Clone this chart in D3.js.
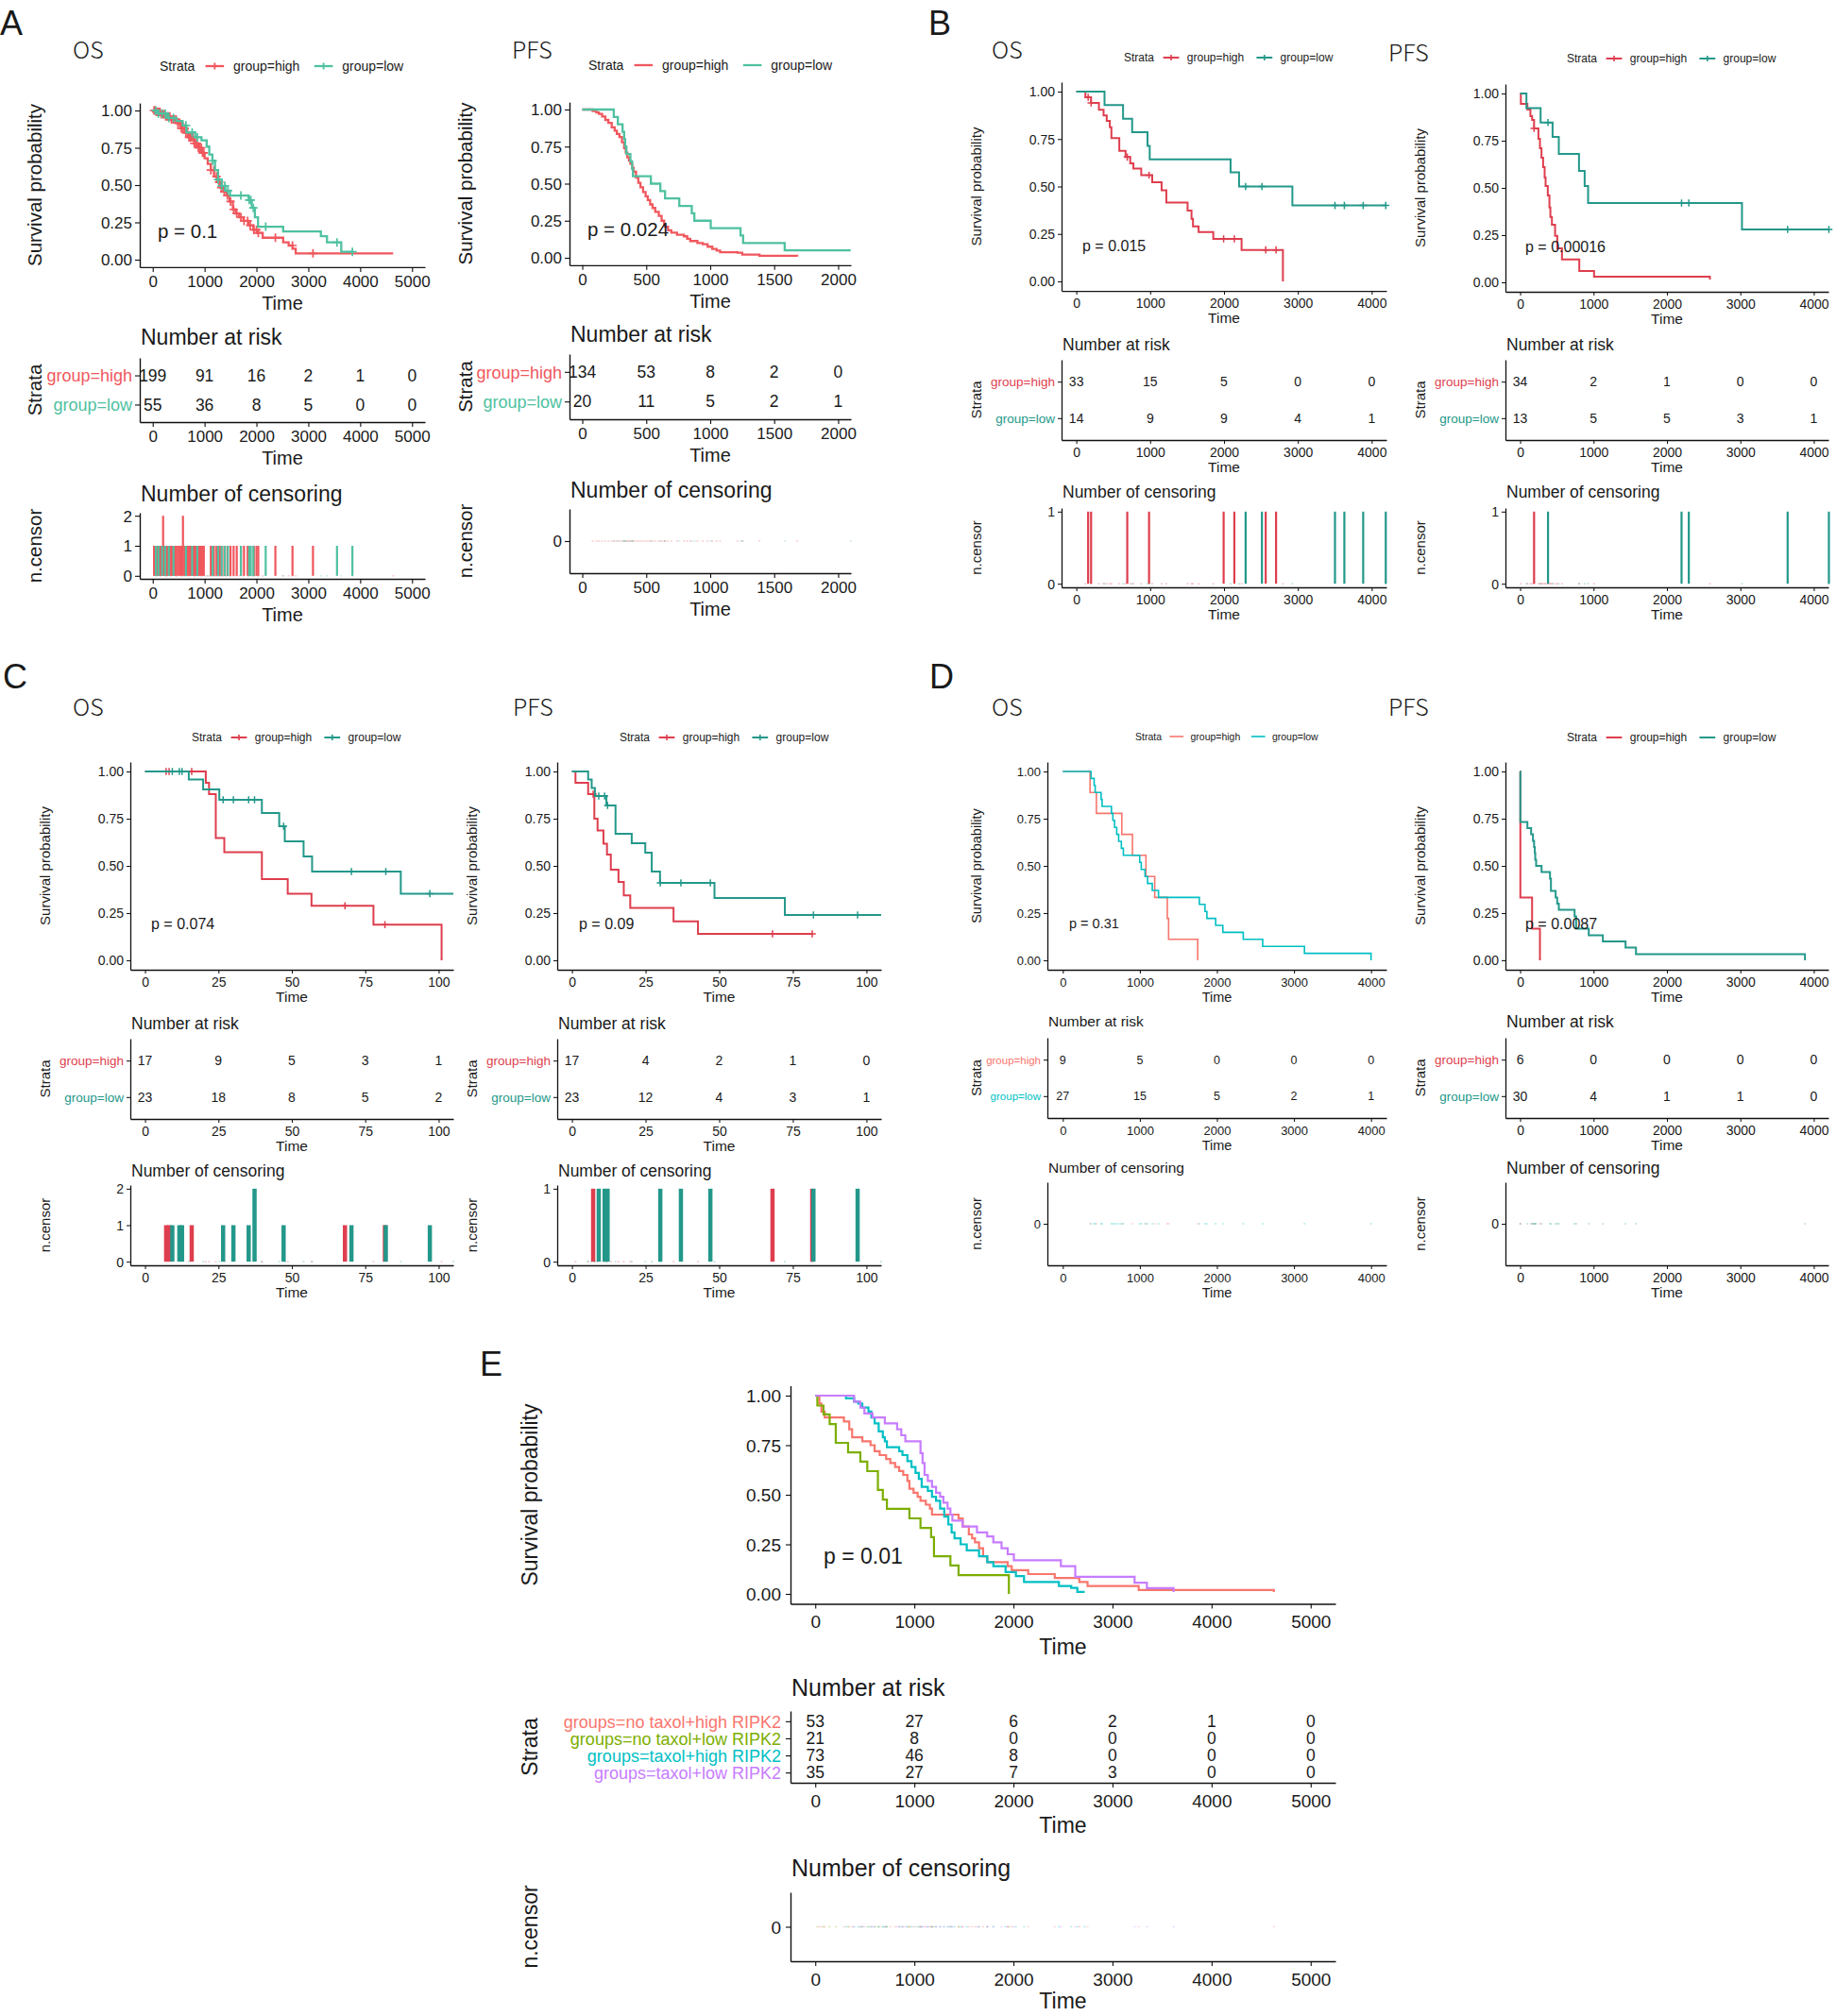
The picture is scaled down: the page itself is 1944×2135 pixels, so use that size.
<!DOCTYPE html>
<html><head><meta charset="utf-8">
<script src="https://cdn.jsdelivr.net/npm/d3@7"></script>
<style>
body{margin:0;background:#fff}
svg text{font-family:'Liberation Sans',Arial,sans-serif;fill:#1a1a1a}
.ttl{font-family:'Noto Sans CJK SC','Noto Sans',sans-serif !important;font-weight:300}
.ltr{font-family:'Liberation Sans',Arial,sans-serif !important;font-weight:normal}
</style>
</head><body>
<svg id="c" width="1944" height="2135"></svg>
<script>
// ---------------- DATA ----------------
const strata2 = ["group=high","group=low"];
const strataE = ["groups=no taxol+high RIPK2","groups=no taxol+low RIPK2","groups=taxol+high RIPK2","groups=taxol+low RIPK2"];
const survTicks = [0,0.25,0.5,0.75,1];
const timeA_OS = [0,1000,2000,3000,4000,5000];
const timeA_PFS = [0,500,1000,1500,2000];
const timeB = [0,1000,2000,3000,4000];
const timeC = [0,25,50,75,100];
const timeD = [0,1000,2000,3000,4000];
const timeE = [0,1000,2000,3000,4000,5000];

// Panel A  OS
const A_OS_high = [[0,1],[60,0.99],[150,0.975],[250,0.96],[350,0.94],[455,0.916],[550,0.88],[620,0.85],[697,0.82],[800,0.78],[880,0.75],[940,0.716],[1000,0.68],[1060,0.642],[1120,0.6],[1182,0.558],[1240,0.52],[1303,0.484],[1360,0.455],[1424,0.43],[1480,0.39],[1545,0.337],[1600,0.31],[1667,0.284],[1750,0.26],[1848,0.23],[1940,0.2],[2030,0.179],[2121,0.147],[2515,0.116],[2620,0.095],[2697,0.074],[2757,0.042],[4636,0.042]];
const A_OS_low = [[0,1],[91,0.98],[273,0.95],[455,0.93],[576,0.9],[650,0.853],[818,0.82],[940,0.8],[1040,0.758],[1090,0.705],[1150,0.663],[1200,0.6],[1260,0.537],[1330,0.495],[1400,0.463],[1490,0.43],[1848,0.4],[1910,0.347],[1970,0.284],[2030,0.221],[2515,0.189],[3242,0.158],[3360,0.116],[3635,0.053],[3848,0.053]];
const A_OS_high_cens = [25,45,70,95,120,140,165,200,200,225,250,275,300,330,360,390,420,450,485,520,550,583,583,615,640,670,700,725,750,775,800,825,850,880,905,935,960,985,1120,1180,1230,1280,1320,1380,1440,1500,1560,1620,1700,1760,1830,1880,1950,2000,2035,2365,2695,3090];
const A_OS_low_cens = [60,110,180,240,310,400,640,760,860,1155,1260,1330,1390,1450,1700,1860,1890,1940,2178,3553,3850];
const A_OS_risk_high = [199,91,16,2,1,0];
const A_OS_risk_low = [55,36,8,5,0,0];

// Panel A  PFS
const A_PFS_high = [[0,1],[81,0.99],[110,0.98],[130,0.97],[155,0.953],[180,0.93],[204,0.91],[230,0.88],[253,0.857],[270,0.835],[290,0.815],[310,0.78],[327,0.74],[340,0.71],[352,0.677],[365,0.655],[376,0.634],[390,0.607],[401,0.58],[420,0.54],[438,0.506],[455,0.475],[475,0.443],[495,0.415],[512,0.389],[530,0.36],[549,0.336],[570,0.31],[598,0.283],[620,0.25],[640,0.22],[647,0.209],[670,0.185],[696,0.17],[740,0.155],[795,0.145],[820,0.128],[844,0.113],[900,0.1],[942,0.091],[980,0.075],[1016,0.06],[1050,0.048],[1077,0.038],[1213,0.034],[1250,0.021],[1385,0.013],[1680,0.008]];
const A_PFS_low = [[0,1],[246,0.95],[278,0.9],[315,0.85],[327,0.8],[335,0.75],[345,0.7],[376,0.65],[390,0.6],[396,0.55],[536,0.5],[610,0.45],[647,0.4],[758,0.35],[856,0.3],[876,0.25],[1004,0.2],[1237,0.15],[1257,0.1],[1582,0.05],[2098,0.05]];
const A_PFS_risk_high = [134,53,8,2,0];
const A_PFS_risk_low = [20,11,5,2,1];

// Panel B  OS
const B_OS_high = [[0,1],[123,0.97],[200,0.94],[306,0.904],[369,0.874],[412,0.846],[454,0.812],[475,0.755],[582,0.688],[667,0.655],[730,0.622],[773,0.594],[879,0.56],[1028,0.522],[1155,0.48],[1219,0.415],[1507,0.373],[1560,0.33],[1580,0.29],[1656,0.26],[1855,0.224],[2238,0.166],[2798,0]];
const B_OS_low = [[0,1],[382,0.929],[633,0.857],[756,0.786],[964,0.714],[994,0.643],[2089,0.575],[2204,0.5],[2926,0.4],[4191,0.4]];
const B_OS_high_cens = [160,200,690,985,1995,2140,2565,2705];
const B_OS_low_cens = [2293,2514,3503,3630,3885,4191];
const B_OS_risk_high = [33,15,5,0,0];
const B_OS_risk_low = [14,9,9,4,1];

// Panel B  PFS
const B_PFS_high = [[0,1],[10,0.945],[99,0.915],[140,0.88],[163,0.86],[190,0.815],[249,0.76],[270,0.71],[291,0.66],[313,0.61],[334,0.555],[347,0.51],[377,0.46],[399,0.396],[412,0.346],[433,0.305],[476,0.246],[506,0.18],[570,0.121],[806,0.06],[1007,0.03],[2585,0.015]];
const B_PFS_low = [[0,1],[86,0.923],[279,0.846],[442,0.77],[527,0.68],[802,0.59],[879,0.51],[926,0.42],[3022,0.28],[4206,0.28]];
const B_PFS_high_cens = [190];
const B_PFS_low_cens = [380,2199,2298,3644,4206];
const B_PFS_risk_high = [34,2,1,0,0];
const B_PFS_risk_low = [13,5,5,3,1];

// Panel C  OS
const C_OS_high = [[0,1],[20.7,0.94],[21.8,0.88],[24.1,0.648],[27,0.573],[39.8,0.43],[48.6,0.352],[56.7,0.289],[77.8,0.189],[101,0]];
const C_OS_low = [[0,1],[14.9,0.957],[19.8,0.905],[25.3,0.85],[39.8,0.78],[45.7,0.71],[47.6,0.63],[54,0.55],[56.9,0.47],[87.1,0.353],[105,0.353]];
const C_OS_high_cens = [7.2,8.2,15.9,68.1,81.7];
const C_OS_low_cens = [9.3,11.7,12.6,26.6,30.1,35.3,37.3,37.3,47.2,70.3,82,97];
const C_OS_risk_high = [17,9,5,3,1];
const C_OS_risk_low = [23,18,8,5,2];

// Panel C  PFS
const C_PFS_high = [[0,1],[1.2,0.94],[5.5,0.88],[7.6,0.75],[8.7,0.688],[10.7,0.618],[11.9,0.56],[13.2,0.48],[15.8,0.415],[17.6,0.344],[19.8,0.277],[34.5,0.206],[42.8,0.14],[81.6,0.14]];
const C_PFS_low = [[0,1],[5.5,0.957],[6.7,0.913],[7.8,0.87],[11.7,0.82],[14.8,0.67],[20.3,0.62],[24.9,0.57],[27.1,0.47],[29.9,0.41],[48.4,0.33],[72.3,0.24],[105,0.24]];
const C_PFS_high_cens = [7.2,68.1,81.6];
const C_PFS_low_cens = [9.1,11.1,12.1,30,37,47,82,97];
const C_PFS_risk_high = [17,4,2,1,0];
const C_PFS_risk_low = [23,12,4,3,1];

// Panel D  OS
const D_OS_high = [[0,1],[354,0.889],[436,0.778],[766,0.667],[904,0.556],[1079,0.444],[1193,0.333],[1356,0.222],[1373,0.111],[1751,0]];
const D_OS_low = [[0,1],[367,0.963],[407,0.926],[420,0.889],[497,0.852],[510,0.815],[631,0.778],[650,0.741],[672,0.704],[700,0.667],[725,0.63],[760,0.593],[786,0.556],[998,0.519],[1018,0.481],[1067,0.444],[1100,0.407],[1161,0.37],[1242,0.333],[1772,0.296],[1845,0.259],[1870,0.222],[1984,0.185],[2077,0.148],[2342,0.111],[2594,0.074],[3136,0.037],[4000,0]];
const D_OS_risk_high = [9,5,0,0,0];
const D_OS_risk_low = [27,15,5,2,1];

// Panel D  PFS
const D_PFS_high = [[0,1],[3,0.333],[163,0.167],[270,0]];
const D_PFS_low = [[0,1],[3,0.733],[99,0.7],[150,0.667],[175,0.633],[190,0.6],[200,0.567],[206,0.533],[218,0.5],[292,0.467],[407,0.433],[420,0.367],[484,0.333],[505,0.3],[527,0.267],[742,0.233],[763,0.167],[935,0.133],[1127,0.1],[1436,0.067],[1578,0.033],[3880,0]];
const D_PFS_risk_high = [6,0,0,0,0];
const D_PFS_risk_low = [30,4,1,1,0];

// Panel E
const E_noTaxolHigh = [[0,1],[41,0.96],[62,0.92],[95,0.89],[289,0.87],[343,0.83],[372,0.79],[475,0.77],[558,0.75],[599,0.72],[650,0.7],[715,0.68],[757,0.66],[806,0.64],[847,0.62],[888,0.6],[930,0.57],[950,0.53],[992,0.51],[1033,0.49],[1062,0.47],[1116,0.45],[1157,0.43],[1178,0.4],[1446,0.38],[1488,0.34],[1550,0.3],[1583,0.28],[1612,0.26],[1653,0.23],[1694,0.19],[1735,0.16],[1942,0.14],[1983,0.12],[2149,0.1],[2417,0.08],[2665,0.06],[2748,0.04],[3264,0.02],[4628,0.01]];
const E_noTaxolLow = [[0,1],[21,0.95],[83,0.905],[145,0.857],[207,0.762],[331,0.714],[455,0.667],[525,0.619],[632,0.524],[682,0.476],[723,0.429],[950,0.381],[1062,0.333],[1169,0.286],[1198,0.19],[1364,0.143],[1446,0.095],[1954,0]];
const E_taxolHigh = [[0,1],[310,0.986],[392,0.97],[434,0.96],[475,0.94],[537,0.92],[566,0.89],[599,0.86],[640,0.82],[682,0.79],[702,0.77],[723,0.74],[847,0.72],[880,0.7],[930,0.67],[971,0.64],[1012,0.61],[1045,0.58],[1074,0.54],[1136,0.52],[1178,0.49],[1219,0.47],[1260,0.43],[1302,0.39],[1343,0.35],[1376,0.31],[1405,0.28],[1467,0.25],[1529,0.22],[1653,0.19],[1736,0.16],[1797,0.14],[1921,0.11],[2025,0.09],[2107,0.06],[2459,0.04],[2583,0.03],[2645,0.01],[2719,0.01]];
const E_taxolLow = [[0,1],[392,0.97],[455,0.94],[496,0.91],[578,0.89],[702,0.86],[826,0.83],[868,0.8],[909,0.77],[1062,0.71],[1083,0.66],[1103,0.6],[1136,0.57],[1178,0.54],[1219,0.51],[1260,0.49],[1293,0.46],[1335,0.43],[1364,0.4],[1384,0.37],[1488,0.34],[1632,0.31],[1735,0.29],[1797,0.26],[1880,0.23],[1942,0.2],[2004,0.17],[2479,0.14],[2624,0.086],[3223,0.057],[3347,0.029],[3616,0.01]];
const E_risk = [[53,27,6,2,1,0],[21,8,0,0,0,0],[73,46,8,0,0,0],[35,27,7,3,0,0]];

const pvals = {A_OS:"p = 0.1",A_PFS:"p = 0.024",B_OS:"p = 0.015",B_PFS:"p = 0.00016",C_OS:"p = 0.074",C_PFS:"p = 0.09",D_OS:"p = 0.31",D_PFS:"p = 0.0087",E:"p = 0.01"};

// ---------------- STYLE ----------------
const colA = ['#F0575D','#4FC1A1'];
const colBC = ['#DE3E4E','#23988A'];
const colDOS = ['#F8766D','#00BFC4'];
const colE = ['#F8766D','#7CAE00','#00BFC4','#C77CFF'];

const SA = {title:25,leg:14,tick:17,tl:5,ypad:3,toff:15,time:20,toffT:38,ytitle:20.5,p:20.5,sub:23,strata:18,num:17.5,lw:2.3,axw:1.4,plus:4.5,censW:2.2};
const SB = {title:25,leg:12,tick:14,tl:4,ypad:3,toff:13,time:15.5,toffT:29,ytitle:15,p:16,sub:17.5,strata:13.5,num:14,lw:2,axw:1.3,plus:3.8,censW:2.2};
const SC = Object.assign({},SB,{censW:4.5});
const SDOS = Object.assign({},SB,{leg:10.5,tick:13,sub:15.5,strata:11.5,num:12.5,p:14.5,lw:1.6,time:14.5,ytitle:14.5});
const SE = {tick:19,tl:5,ypad:5,toff:19,time:23,toffT:45,ytitle:23,p:23,sub:25,strata:18,num:17.5,lw:2.2,axw:1.4,plus:4,censW:2};

const svg = d3.select('#c');
svg.append('rect').attr('width',1944).attr('height',2135).attr('fill','#fff');

function stepVal(data,t){let s=data[0][1];for(const [tt,ss] of data){if(tt<=t)s=ss;else break;}return s;}
function plus(g,cx,cy,s,col,w){g.append('path').attr('d',`M${cx-s},${cy}H${cx+s}M${cx},${cy-s}V${cy+s}`).attr('stroke',col).attr('stroke-width',w).attr('fill','none');}
function rotLabel(g,x,y,txt,fs){g.append('text').attr('transform',`translate(${x},${y}) rotate(-90)`).attr('text-anchor','middle').attr('dy','0.35em').style('font-size',fs+'px').text(txt);}
function hLabel(g,x,y,txt,fs){g.append('text').attr('x',x).attr('y',y).attr('text-anchor','middle').attr('dy','0.35em').style('font-size',fs+'px').text(txt);}
function fmtX(ax,S){ax.select('.domain').attr('stroke','#111').attr('stroke-width',S.axw);ax.selectAll('.tick line').attr('stroke','#111').attr('stroke-width',S.axw*0.8);
  ax.selectAll('.tick text').attr('y',S.toff).attr('dy','0.35em').style('font-size',S.tick+'px');}
function fmtY(ax,S,fs){ax.select('.domain').attr('stroke','#111').attr('stroke-width',S.axw);ax.selectAll('.tick line').attr('stroke','#111').attr('stroke-width',S.axw*0.8);
  ax.selectAll('.tick text').attr('x',-(S.tl+S.ypad)).attr('dy','0.35em').style('font-size',(fs||S.tick)+'px');}

function drawKM(cfg){
  const L=cfg.L,S=cfg.S,g=svg.append('g');
  const X=d3.max(cfg.ticks);
  const x=d3.scaleLinear().domain([-0.05*X,1.05*X]).range([L.xL,L.xR]);
  const h=L.y0-L.y1;
  const y=d3.scaleLinear().domain([-0.05,1.05]).range([L.y0+0.05*h,L.y1-0.05*h]);
  if(cfg.title) g.append('text').attr('class','ttl').attr('x',L.tx).attr('y',L.ty).style('font-size',S.title+'px').text(cfg.title);
  if(cfg.legend){
    let cx=L.lx;const ly=L.ly;
    const t0=g.append('text').attr('x',cx).attr('y',ly).attr('dy','0.35em').style('font-size',S.leg+'px').text('Strata');
    cx+=t0.node().getComputedTextLength()+S.leg*0.8;
    cfg.groups.forEach(gr=>{
      g.append('line').attr('x1',cx).attr('x2',cx+S.leg*1.4).attr('y1',ly).attr('y2',ly).attr('stroke',gr.color).attr('stroke-width',S.lw);
      if(cfg.legendPlus) plus(g,cx+S.leg*0.7,ly,S.plus*0.8,gr.color,S.lw*0.8);
      cx+=S.leg*1.4+S.leg*0.7;
      const tt=g.append('text').attr('x',cx).attr('y',ly).attr('dy','0.35em').style('font-size',S.leg+'px').text(gr.label);
      cx+=tt.node().getComputedTextLength()+S.leg*1.1;
    });
  }
  // survival axes
  const ax=g.append('g').attr('transform',`translate(0,${y(-0.05)})`).call(d3.axisBottom(x).tickValues(cfg.ticks).tickSize(S.tl).tickSizeOuter(0).tickFormat(d3.format('d')));
  fmtX(ax,S);
  const ay=g.append('g').attr('transform',`translate(${L.xL},0)`).call(d3.axisLeft(y).tickValues(survTicks).tickSize(S.tl).tickSizeOuter(0).tickFormat(d3.format('.2f')));
  fmtY(ay,S);
  const line=d3.line().x(d=>x(d[0])).y(d=>y(d[1])).curve(d3.curveStepAfter);
  cfg.groups.forEach(gr=>{
    g.append('path').datum(gr.data).attr('d',line).attr('fill','none').attr('stroke',gr.color).attr('stroke-width',S.lw);
    if(gr.cens) Array.from(new Set(gr.cens)).forEach(t=>plus(g,x(t),y(stepVal(gr.data,t)),S.plus,gr.color,S.lw*0.75));
  });
  g.append('text').attr('x',L.px).attr('y',L.py).attr('dy','0.35em').style('font-size',S.p+'px').text(cfg.p);
  rotLabel(g,L.yt,(L.y0+L.y1)/2,'Survival probability',S.ytitle);
  hLabel(g,(L.xL+L.xR)/2,y(-0.05)+S.toffT,'Time',S.time);

  // risk table
  g.append('text').attr('x',L.xL+1).attr('y',L.rt).attr('dy','0.35em').style('font-size',S.sub+'px').text('Number at risk');
  const labels=cfg.groups.map(d=>d.label);
  const yr=d3.scalePoint().domain(labels).range([L.r0,L.r1]).padding(0.6);
  const rx=g.append('g').attr('transform',`translate(0,${L.r1})`).call(d3.axisBottom(x).tickValues(cfg.ticks).tickSize(S.tl).tickSizeOuter(0).tickFormat(d3.format('d')));
  fmtX(rx,S);
  const ry=g.append('g').attr('transform',`translate(${L.xL},0)`).call(d3.axisLeft(yr).tickSize(S.tl).tickSizeOuter(0));
  fmtY(ry,S,S.strata);
  ry.selectAll('.tick text').style('fill',(d,i)=>cfg.groups[i].color);
  cfg.groups.forEach(gr=>gr.risk.forEach((n,j)=>{
    g.append('text').attr('x',x(cfg.ticks[j])).attr('y',yr(gr.label)).attr('dy','0.35em').attr('text-anchor','middle').style('font-size',S.num+'px').text(n);
  }));
  rotLabel(g,L.yt,(L.r0+L.r1)/2,'Strata',S.ytitle);
  hLabel(g,(L.xL+L.xR)/2,L.r1+S.toffT,'Time',S.time);

  // censoring plot
  g.append('text').attr('x',L.xL+1).attr('y',L.ct).attr('dy','0.35em').style('font-size',S.sub+'px').text('Number of censoring');
  const counts=cfg.groups.map(gr=>Array.from(d3.rollup(gr.cens||[],v=>v.length,d=>d),([t,n])=>({t,n})));
  const M=d3.max(counts.flat(),d=>d.n)||0;
  const yc=d3.scaleLinear().domain(M>0?[-0.05*M,1.05*M]:[-1,1]).range([L.c1,L.c0]);
  cfg.groups.forEach(gr=>{
    gr.data.slice(1).forEach(d=>{
      g.append('rect').attr('x',x(d[0])-1).attr('y',yc(0)-0.75).attr('width',2).attr('height',1.5).attr('fill',gr.color).attr('opacity',0.3);
    });
  });
  cfg.groups.forEach((gr,i)=>{
    counts[i].forEach(d=>{
      g.append('rect').attr('x',x(d.t)-S.censW/2).attr('y',yc(d.n)).attr('width',S.censW).attr('height',yc(0)-yc(d.n)).attr('fill',gr.color);
    });
  });
  const cx=g.append('g').attr('transform',`translate(0,${L.c1})`).call(d3.axisBottom(x).tickValues(cfg.ticks).tickSize(S.tl).tickSizeOuter(0).tickFormat(d3.format('d')));
  fmtX(cx,S);
  const cy=g.append('g').attr('transform',`translate(${L.xL},0)`).call(d3.axisLeft(yc).tickValues(d3.range(0,M+1)).tickSize(S.tl).tickSizeOuter(0).tickFormat(d3.format('d')));
  fmtY(cy,S);
  rotLabel(g,L.yt,(L.c0+L.c1)/2,'n.censor',S.ytitle);
  hLabel(g,(L.xL+L.xR)/2,L.c1+(L.cT||S.toffT),'Time',S.time);
}

function mk2(d1,d2,c1,c2,r1,r2,cols){
  return [{label:strata2[0],color:cols[0],data:d1,cens:c1,risk:r1},{label:strata2[1],color:cols[1],data:d2,cens:c2,risk:r2}];
}

// ---------------- PANELS ----------------
drawKM({title:'OS',legend:true,legendPlus:true,ticks:timeA_OS,p:pvals.A_OS,S:SA,
  groups:mk2(A_OS_high,A_OS_low,A_OS_high_cens,A_OS_low_cens,A_OS_risk_high,A_OS_risk_low,colA),
  L:{tx:77,ty:62,lx:169,ly:70,xL:148,xR:450,y1:117,y0:275,yt:37,px:167,py:245,rt:357,r0:379,r1:447,ct:523,c0:543,c1:613}});
drawKM({title:'PFS',legend:true,legendPlus:false,ticks:timeA_PFS,p:pvals.A_PFS,S:SA,
  groups:mk2(A_PFS_high,A_PFS_low,null,null,A_PFS_risk_high,A_PFS_risk_low,colA),
  L:{tx:542,ty:62,lx:623,ly:69,xL:603,xR:901,y1:116,y0:273,yt:493,px:622,py:243,rt:354,r0:375,r1:444,ct:519,c0:539,c1:607}});
drawKM({title:'OS',legend:true,legendPlus:true,ticks:timeB,p:pvals.B_OS,S:SB,
  groups:mk2(B_OS_high,B_OS_low,B_OS_high_cens,B_OS_low_cens,B_OS_risk_high,B_OS_risk_low,colBC),
  L:{tx:1050,ty:62,lx:1190,ly:61,xL:1124,xR:1468,y1:97,y0:298,yt:1034,px:1146,py:260,rt:365,r0:381,r1:466,ct:521,c0:538,c1:622}});
drawKM({title:'PFS',legend:true,legendPlus:true,ticks:timeB,p:pvals.B_PFS,S:SB,
  groups:mk2(B_PFS_high,B_PFS_low,B_PFS_high_cens,B_PFS_low_cens,B_PFS_risk_high,B_PFS_risk_low,colBC),
  L:{tx:1470,ty:65,lx:1659,ly:62,xL:1594,xR:1936,y1:99,y0:299,yt:1504,px:1615,py:261,rt:365,r0:381,r1:466,ct:521,c0:538,c1:622}});
drawKM({title:'OS',legend:true,legendPlus:true,ticks:timeC,p:pvals.C_OS,S:SC,
  groups:mk2(C_OS_high,C_OS_low,C_OS_high_cens,C_OS_low_cens,C_OS_risk_high,C_OS_risk_low,colBC),
  L:{tx:77,ty:758,lx:203,ly:781,xL:138,xR:480,y1:817,y0:1017,yt:48,px:160,py:978,rt:1084,r0:1100,r1:1185,ct:1240,c0:1255,c1:1340}});
drawKM({title:'PFS',legend:true,legendPlus:true,ticks:timeC,p:pvals.C_PFS,S:SC,
  groups:mk2(C_PFS_high,C_PFS_low,C_PFS_high_cens,C_PFS_low_cens,C_PFS_risk_high,C_PFS_risk_low,colBC),
  L:{tx:543,ty:758,lx:656,ly:781,xL:590,xR:933,y1:817,y0:1017,yt:500,px:613,py:978,rt:1084,r0:1100,r1:1185,ct:1240,c0:1255,c1:1340}});
drawKM({title:'OS',legend:true,legendPlus:false,ticks:timeD,p:pvals.D_OS,S:SDOS,
  groups:mk2(D_OS_high,D_OS_low,null,null,D_OS_risk_high,D_OS_risk_low,colDOS),
  L:{tx:1050,ty:758,lx:1202,ly:780,xL:1109,xR:1468,y1:817,y0:1017,yt:1034,px:1132,py:978,rt:1082,r0:1099,r1:1184,ct:1237,c0:1252,c1:1340}});
drawKM({title:'PFS',legend:true,legendPlus:false,ticks:timeD,p:pvals.D_PFS,S:SB,
  groups:mk2(D_PFS_high,D_PFS_low,null,null,D_PFS_risk_high,D_PFS_risk_low,colBC),
  L:{tx:1470,ty:758,lx:1659,ly:781,xL:1594,xR:1936,y1:817,y0:1017,yt:1504,px:1615,py:978,rt:1082,r0:1099,r1:1184,ct:1237,c0:1252,c1:1340}});
const Edata=[E_noTaxolHigh,E_noTaxolLow,E_taxolHigh,E_taxolLow];
drawKM({title:null,legend:false,ticks:timeE,p:pvals.E,S:SE,
  groups:strataE.map((s,i)=>({label:s,color:colE[i],data:Edata[i],cens:null,risk:E_risk[i]})),
  L:{xL:837,xR:1414,y1:1478,y0:1688,yt:561,px:872,py:1648,rt:1787,r0:1812,r1:1888,ct:1978,c0:2004,c1:2077,cT:42}});

// panel letters
const letters=[{t:'A',x:0,y:37},{t:'B',x:983,y:37},{t:'C',x:3,y:729},{t:'D',x:984,y:729},{t:'E',x:508,y:1457}];
letters.forEach(l=>svg.append('text').attr('class','ltr').attr('x',l.x).attr('y',l.y).style('font-size','36px').text(l.t));
</script>
</body></html>
